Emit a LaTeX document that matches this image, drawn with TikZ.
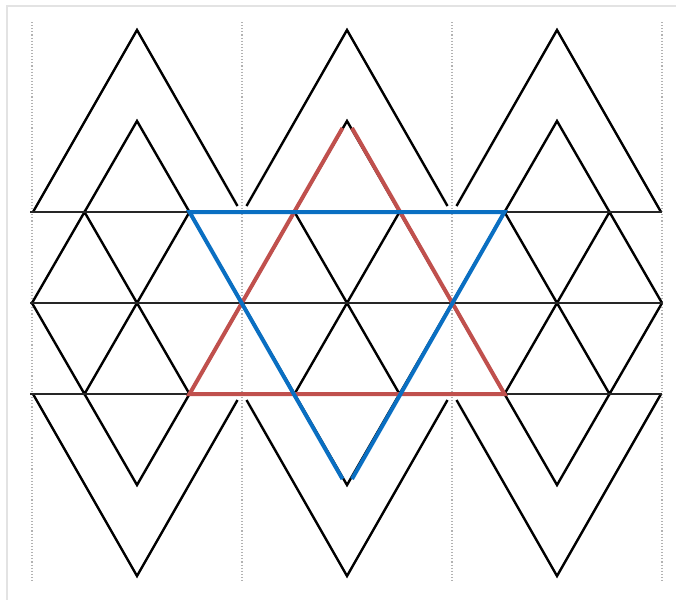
\documentclass[tikz,border=0pt]{standalone}
\definecolor{starred}{HTML}{C0504D}
\definecolor{starblue}{HTML}{0A6FC2}
\begin{document}
\begin{tikzpicture}[x=1pt,y=-1pt,
  blk/.style={line width=2.4pt, black, line join=miter},
  hline/.style={line width=2.4pt, black!85},
  redl/.style={line width=4pt, starred, line join=miter},
  bluel/.style={line width=4pt, starblue, line join=miter},
  guide/.style={line width=1.1pt, gray!60, dotted},
  frame/.style={line width=2.5pt, gray!22}]
\useasboundingbox (0,0) rectangle (676,600);
% frame
\draw[frame] (676,6) -- (7,6) -- (7,600);
% dotted guides
\foreach \x in {32,242,452,662} \draw[guide] (\x,22) -- (\x,583);
% big and small triangles per column
\foreach \c/\l/\r in {137/104/100.5, 347/100.5/100.5, 557/100.5/104} {
  \pgfmathsetmacro\yl{\l > 101 ? 212 : 206}
  \pgfmathsetmacro\yr{\r > 101 ? 212 : 206}
  \pgfmathsetmacro\ylb{\l > 101 ? 394 : 400}
  \pgfmathsetmacro\yrb{\r > 101 ? 394 : 400}
  \draw[blk] (\c-\l,\yl) -- (\c,30) -- (\c+\r,\yr);
  \draw[blk] (\c-52.5,212) -- (\c,121) -- (\c+52.5,212);
  \draw[blk] (\c-\l,\ylb) -- (\c,576) -- (\c+\r,\yrb);
  \draw[blk] (\c-52.5,394) -- (\c,485) -- (\c+52.5,394);
}
% middle bands of the lattice
\foreach \k in {0,...,5} {
  \pgfmathsetmacro\xx{84.5+105*\k}
  \draw[blk] (\xx-52.5,303) -- (\xx,212) -- (\xx+52.5,303);
  \draw[blk] (\xx-52.5,303) -- (\xx,394) -- (\xx+52.5,303);
}
% horizontal lines
\foreach \y in {212,303,394} \draw[hline] (30,\y) -- (662,\y);
% red triangle (apex up)
\coordinate (rA1) at (342.5,128);
\coordinate (rA2) at (352,128);
\coordinate (rBL) at (189.5,394);
\coordinate (rBR) at (504.5,394);
\draw[redl] (rA1) -- (rBL) -- (rBR) -- (rA2);
% blue triangle (apex down)
\coordinate (bTL) at (189.5,212);
\coordinate (bTR) at (504.5,212);
\coordinate (bA1) at (342.5,479);
\coordinate (bA2) at (352,479);
\draw[bluel] (bA2) -- (bTR) -- (bTL) -- (bA1);
\end{tikzpicture}
\end{document}
